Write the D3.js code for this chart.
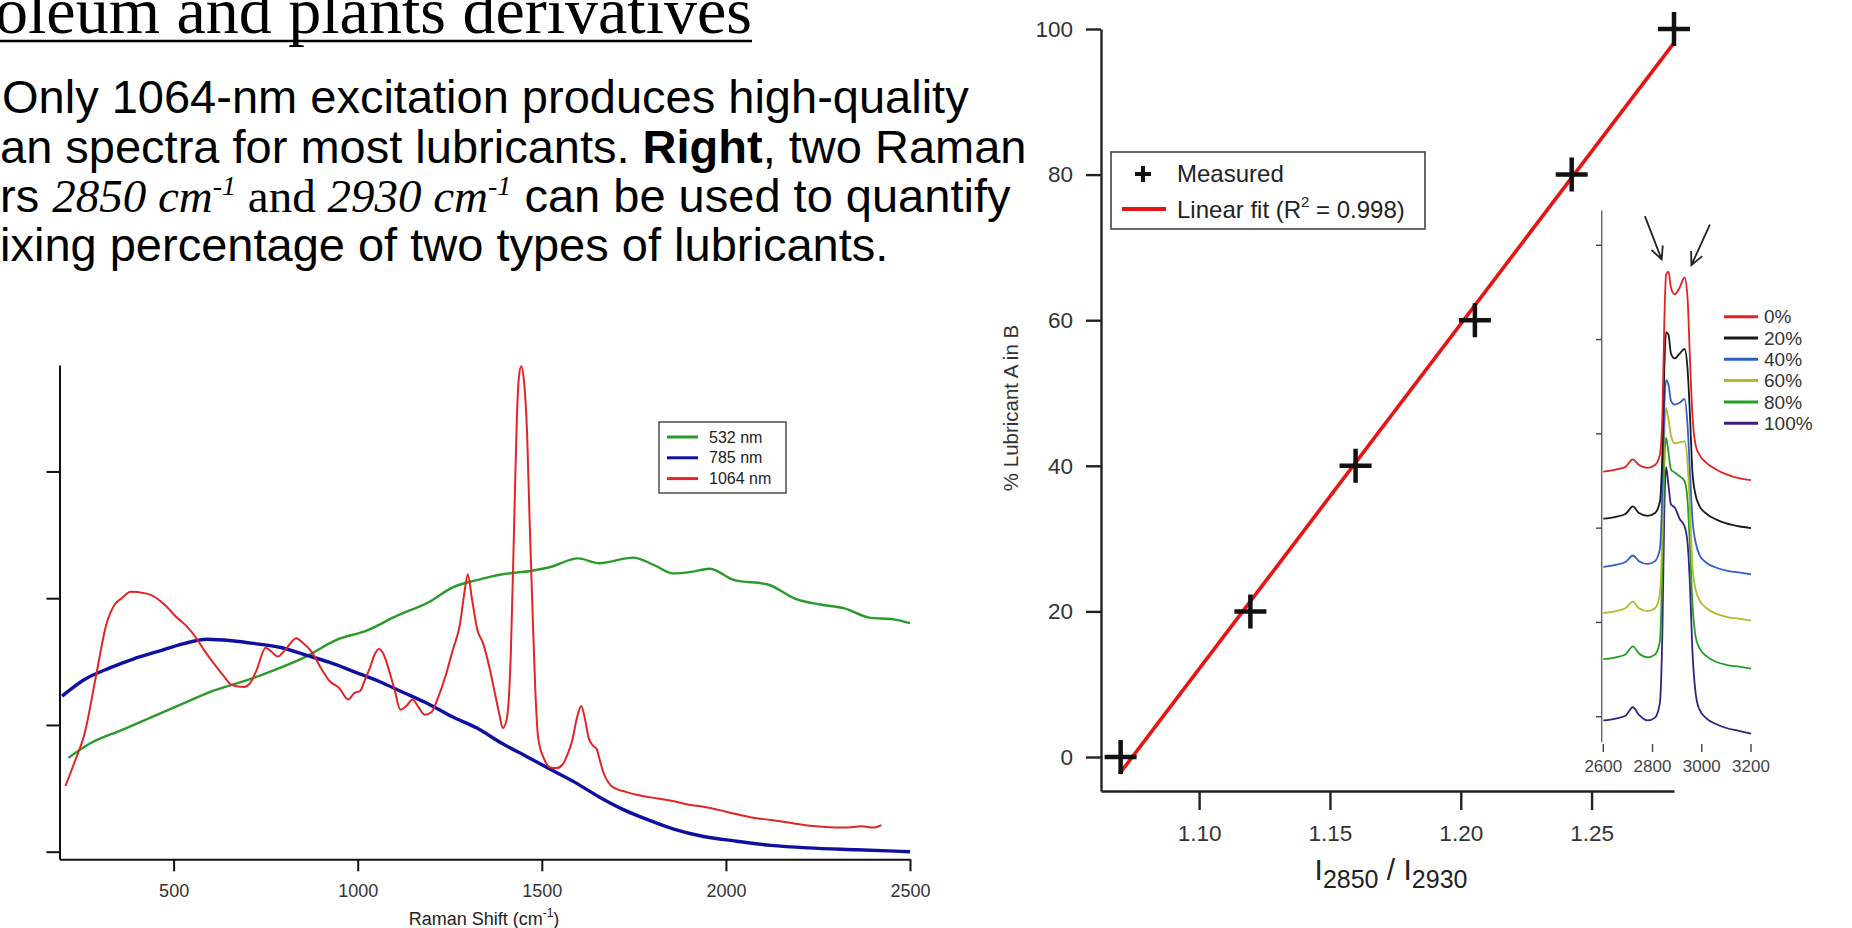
<!DOCTYPE html>
<html><head><meta charset="utf-8">
<script src="https://cdn.jsdelivr.net/npm/d3@7"></script>
<style>body{margin:0;background:#fff;overflow:hidden} svg{display:block}</style>
</head><body><svg id="c" width="1852" height="928"></svg>
<script>
// ---------------- DATA ----------------
const titleText = "oleum and plants derivatives";
// Left chart: Raman spectra at three excitation wavelengths (arbitrary intensity units)
const shift532 = [214,275,359,442,525,608,691,775,858,941,1024,1107,1191,1257,1324,1390,1473,1523,1598,1656,1748,1806,1856,1906,1956,2023,2114,2189,2256,2322,2389,2455,2500];
const int532   = [0.74,0.857,0.96,1.064,1.168,1.271,1.345,1.434,1.537,1.67,1.744,1.862,1.966,2.084,2.143,2.187,2.217,2.246,2.314,2.276,2.32,2.26,2.196,2.208,2.232,2.143,2.108,1.995,1.95,1.92,1.847,1.833,1.803];
const shift785 = [197,259,325,392,458,525,591,658,725,791,858,924,991,1057,1124,1191,1257,1324,1390,1457,1523,1590,1657,1723,1790,1856,1939,2023,2122,2222,2356,2500];
const int785   = [1.227,1.36,1.448,1.522,1.58,1.64,1.676,1.664,1.64,1.611,1.552,1.493,1.419,1.345,1.256,1.168,1.064,0.975,0.857,0.754,0.65,0.547,0.43,0.33,0.25,0.18,0.12,0.085,0.05,0.03,0.015,0.0];
const shift1064 = [206,230,258,290,317,340,359,384,420,442,475,508,535,558,585,608,635,658,691,710,725,750,765,783,805,833,850,874,900,924,950,974,990,1007,1020,1033,1045,1057,1070,1082,1100,1116,1132,1149,1165,1182,1200,1216,1240,1257,1278,1290,1299,1310,1325,1341,1358,1374,1385,1394,1405,1416,1425,1432,1438,1444,1452,1460,1467,1474,1482,1490,1505,1523,1540,1557,1570,1582,1595,1607,1617,1627,1638,1649,1656,1666,1680,1690,1730,1773,1815,1856,1900,1939,1980,2023,2070,2122,2170,2222,2270,2322,2370,2400,2422];
const int1064   = [0.517,0.70,0.93,1.40,1.79,1.95,2.0,2.05,2.04,2.02,1.95,1.85,1.78,1.70,1.58,1.49,1.39,1.315,1.30,1.34,1.43,1.61,1.58,1.54,1.60,1.685,1.65,1.58,1.45,1.345,1.29,1.20,1.25,1.27,1.36,1.45,1.55,1.60,1.56,1.46,1.28,1.12,1.15,1.20,1.14,1.08,1.10,1.20,1.40,1.58,1.80,2.05,2.19,2.00,1.75,1.64,1.45,1.23,1.08,0.975,1.05,1.58,2.60,3.40,3.75,3.83,3.70,3.30,2.60,1.97,1.30,0.90,0.74,0.665,0.66,0.69,0.77,0.87,1.05,1.15,1.05,0.90,0.84,0.81,0.74,0.635,0.55,0.517,0.47,0.44,0.42,0.40,0.37,0.355,0.33,0.30,0.27,0.25,0.23,0.207,0.195,0.19,0.20,0.19,0.21];
const leftSeriesNames = ["532 nm","785 nm","1064 nm"];
const leftXTicks = [500,1000,1500,2000,2500];
const leftYTicks = [0,1,2,3];

// Right chart: calibration
const measuredRatio   = [1.070,1.1196,1.1598,1.2054,1.2424,1.2815];
const measuredPercent = [0,20,40,60,80,100];
const fitRatio   = [1.0696,1.2815];
const fitPercent = [-2.3,98.1];
const rightXTicks = [1.10,1.15,1.20,1.25];
const rightYTicks = [0,20,40,60,80,100];

// Inset: stacked C-H stretch spectra
const insetShift = [2600,2650,2690,2720,2745,2780,2810,2830,2840,2848,2855,2865,2875,2890,2910,2930,2942,2952,2962,2975,2990,3020,3060,3100,3150,3200];
const insetLabels = ["0%","20%","40%","60%","80%","100%"];
const ins0   = [2.60,2.62,2.65,2.73,2.67,2.64,2.67,2.78,3.2,4.2,4.69,4.72,4.55,4.48,4.55,4.66,4.45,3.8,3.2,2.88,2.78,2.69,2.62,2.57,2.53,2.51];
const ins20  = [2.10,2.12,2.15,2.23,2.16,2.13,2.16,2.28,2.8,3.7,4.08,4.05,3.85,3.80,3.85,3.90,3.7,3.2,2.6,2.35,2.24,2.15,2.09,2.05,2.02,2.00];
const ins40  = [1.59,1.61,1.64,1.71,1.65,1.62,1.65,1.78,2.4,3.3,3.57,3.52,3.35,3.31,3.33,3.37,3.1,2.6,2.1,1.85,1.72,1.63,1.58,1.55,1.53,1.51];
const ins60  = [1.10,1.12,1.15,1.22,1.15,1.12,1.15,1.3,2.0,3.0,3.27,3.15,2.98,2.90,2.91,2.92,2.7,2.2,1.6,1.35,1.24,1.15,1.09,1.06,1.04,1.02];
const ins80  = [0.61,0.63,0.66,0.745,0.67,0.63,0.66,0.8,1.6,2.7,2.96,2.80,2.62,2.59,2.55,2.50,2.30,1.8,1.2,0.85,0.73,0.64,0.58,0.55,0.53,0.51];
const ins100 = [-0.04,-0.02,0.01,0.10,0.02,-0.04,-0.01,0.15,0.9,2.2,2.65,2.45,2.25,2.22,2.10,2.02,1.85,1.4,0.7,0.25,0.08,-0.02,-0.08,-0.12,-0.15,-0.18];
const insetXTicks = [2600,2800,3000,3200];
const insetYTicks = [0,1,2,3,4,5];
// arrows pointing at the two bands: start / end in inset data units
const arrowStart = [[2769,5.31],[3033,5.22]];
const arrowEnd   = [[2837,4.85],[2958,4.79]];

// ---------------- DRAW ----------------
const SANS = "'Liberation Sans', Arial, Helvetica, sans-serif";
const SERIF = "'Liberation Serif', 'Times New Roman', serif";
const svg = d3.select('#c');

// Title (partially clipped at top, as in the slide) + underline
svg.append('text').attr('x', 752).attr('y', 33).attr('text-anchor','end')
  .attr('font-family', SERIF).attr('font-size', 66).attr('fill','#000').text(titleText);
svg.append('line').attr('x1',0).attr('x2',752).attr('y1',41).attr('y2',41).attr('stroke','#000').attr('stroke-width',2.6);

// Body text
const body = svg.append('g').attr('font-family', SANS).attr('font-size', 47).attr('fill','#000');
body.append('text').attr('x',2).attr('y',113).text("Only 1064-nm excitation produces high-quality");
const l2 = body.append('text').attr('x',0).attr('y',163);
l2.append('tspan').text("an spectra for most lubricants. ");
l2.append('tspan').attr('font-weight','bold').text("Right");
l2.append('tspan').text(", two Raman");
const l3 = body.append('text').attr('x',0).attr('y',212);
l3.append('tspan').text("rs ");
l3.append('tspan').attr('font-family',SERIF).attr('font-style','italic').text("2850 cm");
l3.append('tspan').attr('font-family',SERIF).attr('font-style','italic').attr('font-size',28).attr('dy',-17).text("-1");
l3.append('tspan').attr('font-family',SERIF).attr('dy',17).text(" and ");
l3.append('tspan').attr('font-family',SERIF).attr('font-style','italic').text("2930 cm");
l3.append('tspan').attr('font-family',SERIF).attr('font-style','italic').attr('font-size',28).attr('dy',-17).text("-1");
l3.append('tspan').attr('dy',17).text(" can be used to quantify");
body.append('text').attr('x',0).attr('y',261).text("ixing percentage of two types of lubricants.");

// ---------- Left chart ----------
const xL = d3.scaleLinear().domain([190,2500]).range([59.5,910]);
const yL = d3.scaleLinear().domain([-0.06,3.84]).range([859.3,365]);
const gL = svg.append('g');
const axLx = gL.append('g').attr('transform','translate(0,859.3)')
  .call(d3.axisBottom(xL).tickValues(leftXTicks).tickSize(12).tickSizeOuter(0).tickPadding(13).tickFormat(d3.format('d')));
const axLy = gL.append('g').attr('transform','translate(59.5,0)')
  .call(d3.axisLeft(yL).tickValues(leftYTicks).tickSize(13).tickSizeOuter(0).tickFormat(''));
[axLx,axLy].forEach(a=>{a.selectAll('path,line').attr('stroke','#111').attr('stroke-width',2);
  a.selectAll('text').attr('font-family',SANS).attr('font-size',18).attr('fill','#333');});
const lt = gL.append('text').attr('x',484).attr('y',925).attr('text-anchor','middle')
  .attr('font-family',SANS).attr('font-size',18).attr('fill','#222');
lt.append('tspan').text('Raman Shift (cm');
lt.append('tspan').attr('font-size',12).attr('dy',-8).text('-1');
lt.append('tspan').attr('dy',8).text(')');

const lineL = d3.line().x(d=>xL(d[0])).y(d=>yL(d[1])).curve(d3.curveMonotoneX);
const leftSeries = [
  {x:shift532,y:int532,color:'#2a9a2a',w:2.4},
  {x:shift785,y:int785,color:'#1010a0',w:3.4},
  {x:shift1064,y:int1064,color:'#e22424',w:2}
];
leftSeries.forEach(s=>{
  gL.append('path').datum(d3.zip(s.x,s.y)).attr('d',lineL).attr('fill','none')
    .attr('stroke',s.color).attr('stroke-width',s.w).attr('stroke-linejoin','round');
});
// left legend
const legL = gL.append('g');
legL.append('rect').attr('x',659).attr('y',422).attr('width',127).attr('height',71)
  .attr('fill','#fff').attr('stroke','#333').attr('stroke-width',1.3);
leftSeriesNames.forEach((n,i)=>{
  const yy = 437 + i*20.8;
  legL.append('line').attr('x1',667).attr('x2',698).attr('y1',yy).attr('y2',yy)
    .attr('stroke',leftSeries[i].color).attr('stroke-width',3);
  legL.append('text').attr('x',709).attr('y',yy).attr('dy','0.35em').attr('font-family',SANS)
    .attr('font-size',16).attr('fill','#222').text(n);
});

// ---------- Right chart ----------
const xR = d3.scaleLinear().domain([1.0625,1.2815]).range([1101,1674]);
const yR = d3.scaleLinear().domain([-4.67,100]).range([791,29]);
const gR = svg.append('g');
const axRx = gR.append('g').attr('transform','translate(0,791)')
  .call(d3.axisBottom(xR).tickValues(rightXTicks).tickSize(19).tickSizeOuter(0).tickPadding(15).tickFormat(d3.format('.2f')));
const axRy = gR.append('g').attr('transform','translate(1101,0)')
  .call(d3.axisLeft(yR).tickValues(rightYTicks).tickSize(15).tickSizeOuter(0).tickPadding(13).tickFormat(d3.format('d')));
[axRx,axRy].forEach(a=>{a.selectAll('path,line').attr('stroke','#222').attr('stroke-width',2.4);
  a.selectAll('text').attr('font-family',SANS).attr('font-size',22.5).attr('fill','#333');});
// axis titles
const xt = gR.append('text').attr('x',1391).attr('y',880).attr('text-anchor','middle')
  .attr('font-family',SANS).attr('font-size',30).attr('fill','#222');
xt.append('tspan').text('I');
xt.append('tspan').attr('font-size',25).attr('dy',8).text('2850');
xt.append('tspan').attr('dy',-8).text(' / I');
xt.append('tspan').attr('font-size',25).attr('dy',8).text('2930');
gR.append('text').attr('transform','translate(1018,408) rotate(-90)').attr('text-anchor','middle')
  .attr('font-family',SANS).attr('font-size',20.5).attr('fill','#333').text('% Lubricant A in B');

gR.append('path').datum(d3.zip(fitRatio,fitPercent))
  .attr('d',d3.line().x(d=>xR(d[0])).y(d=>yR(d[1]))).attr('stroke','#e81414').attr('stroke-width',3.6).attr('fill','none');
gR.selectAll('path.plus').data(d3.zip(measuredRatio,measuredPercent)).join('path').attr('class','plus')
  .attr('transform',d=>`translate(${xR(d[0])},${yR(d[1])})`)
  .attr('d','M-16,0H16M0,-17V17').attr('stroke','#111').attr('stroke-width',4.5).attr('fill','none');

// legend right
const legR = gR.append('g');
legR.append('rect').attr('x',1111).attr('y',152).attr('width',314).attr('height',77)
  .attr('fill','#fff').attr('stroke','#444').attr('stroke-width',1.6);
legR.append('path').attr('transform','translate(1143,174)').attr('d','M-8,0H8M0,-8V8')
  .attr('stroke','#111').attr('stroke-width',4);
legR.append('text').attr('x',1177).attr('y',182).attr('font-family',SANS).attr('font-size',24).attr('fill','#222').text('Measured');
legR.append('line').attr('x1',1122).attr('x2',1166).attr('y1',209).attr('y2',209).attr('stroke','#e81414').attr('stroke-width',4);
const lf = legR.append('text').attr('x',1177).attr('y',218).attr('font-family',SANS).attr('font-size',24).attr('fill','#222');
lf.append('tspan').text('Linear fit (R');
lf.append('tspan').attr('font-size',15).attr('dy',-11).text('2');
lf.append('tspan').attr('dy',11).text(' = 0.998)');

// ---------- Inset ----------
const xI = d3.scaleLinear().domain([2600,3200]).range([1603.3,1751]);
const yI = d3.scaleLinear().domain([0,5]).range([716.7,245.3]);
const gI = svg.append('g');
gI.append('line').attr('x1',1601.7).attr('x2',1601.7).attr('y1',yI(5.37)).attr('y2',yI(-0.27)).attr('stroke','#666').attr('stroke-width',1.4);
gI.selectAll('line.yt').data(insetYTicks).join('line').attr('class','yt')
  .attr('x1',1596).attr('x2',1601.7).attr('y1',d=>yI(d)).attr('y2',d=>yI(d)).attr('stroke','#444').attr('stroke-width',1.4);
gI.selectAll('line.xt').data(insetXTicks).join('line').attr('class','xt')
  .attr('x1',d=>xI(d)).attr('x2',d=>xI(d)).attr('y1',744).attr('y2',752).attr('stroke','#444').attr('stroke-width',1.4);
gI.selectAll('text.xl').data(insetXTicks).join('text').attr('class','xl')
  .attr('x',d=>xI(d)).attr('y',772).attr('text-anchor','middle').attr('font-family',SANS)
  .attr('font-size',17).attr('fill','#444').text(d=>d);
const insetSeries = [ins0,ins20,ins40,ins60,ins80,ins100];
const insetColors = ['#e42020','#1a1a1a','#2f5fc8','#b8b828','#23a023','#3a1f82'];
const lineI = d3.line().x(d=>xI(d[0])).y(d=>yI(d[1])).curve(d3.curveMonotoneX);
for (let i=insetSeries.length-1;i>=0;i--){
  gI.append('path').datum(d3.zip(insetShift,insetSeries[i])).attr('d',lineI).attr('fill','none')
    .attr('stroke',insetColors[i]).attr('stroke-width',1.8);
}
// inset legend
insetLabels.forEach((n,i)=>{
  const yy = 316.7 + i*21.3;
  gI.append('line').attr('x1',1724).attr('x2',1758).attr('y1',yy).attr('y2',yy).attr('stroke',insetColors[i]).attr('stroke-width',3);
  gI.append('text').attr('x',1764).attr('y',yy).attr('dy','0.35em').attr('font-family',SANS).attr('font-size',19).attr('fill','#333').text(n);
});
// arrows
arrowStart.forEach((s,i)=>{
  const e = arrowEnd[i];
  const x0=xI(s[0]), y0=yI(s[1]), x1=xI(e[0]), y1=yI(e[1]);
  const ang = Math.atan2(y1-y0,x1-x0), L=14, a=0.45;
  gI.append('path').attr('d',`M${x0},${y0}L${x1},${y1}M${x1-L*Math.cos(ang-a)},${y1-L*Math.sin(ang-a)}L${x1},${y1}L${x1-L*Math.cos(ang+a)},${y1-L*Math.sin(ang+a)}`)
    .attr('stroke','#222').attr('stroke-width',1.8).attr('fill','none');
});
</script></body></html>
